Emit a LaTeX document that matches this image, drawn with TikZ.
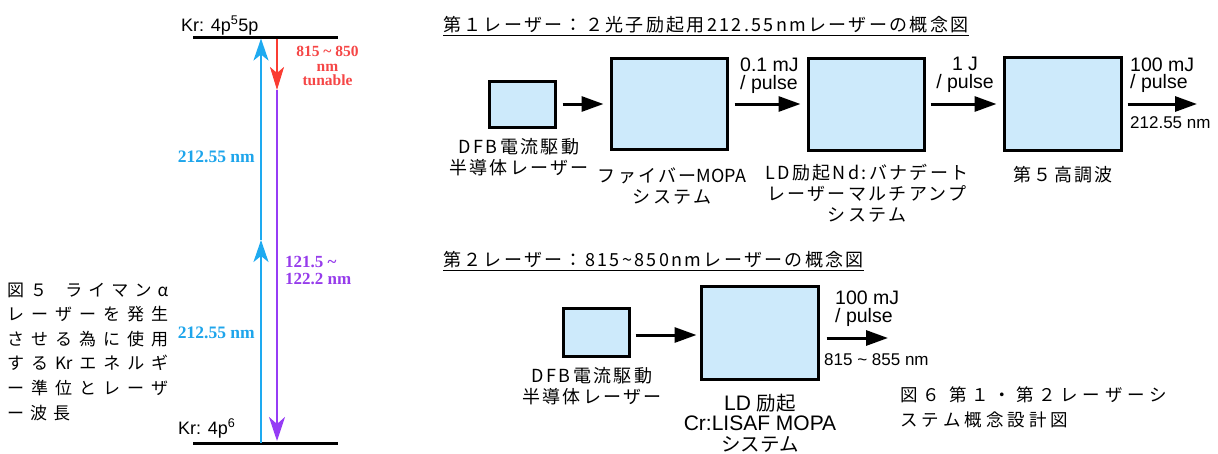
\documentclass[tikz,border=0pt]{standalone}
\usepackage{fontspec}
\setmainfont{Liberation Sans}
\newfontfamily\jp[LetterSpace=13]{Noto Sans CJK JP}
\newfontfamily\jpc{Noto Sans CJK JP}
\newfontfamily\tms{Liberation Serif}
\usetikzlibrary{arrows.meta,calc}
\definecolor{cblue}{RGB}{30,170,240}
\definecolor{cpurple}{RGB}{150,60,245}
\definecolor{cred}{RGB}{250,60,50}
\definecolor{cbluet}{RGB}{30,165,235}
\definecolor{cpurplet}{RGB}{150,60,235}
\definecolor{credt}{RGB}{245,70,70}
\definecolor{boxfill}{RGB}{205,234,251}
\tikzset{
  blk/.style={draw=black, line width=3pt, fill=boxfill, inner sep=0pt},
  flow/.style={line width=3pt, -{Triangle[length=22pt,width=15pt]}},
  jlab/.style={font={\jp\fontsize{18}{21}\selectfont}, align=center, inner sep=0pt},
  plab/.style={font={\fontsize{19.5}{17.5}\selectfont}, inner sep=0pt},
  wlab/.style={font={\fontsize{17}{17}\selectfont}, inner sep=0pt, anchor=west},
  ttl/.style={font={\jp\fontsize{18}{21}\selectfont}, inner sep=0pt, anchor=base west},
  lvl/.style={line width=3pt},
  lvltxt/.style={font={\fontsize{18}{18}\selectfont}, inner sep=0pt, anchor=base west},
  bluearr/.style={draw=cblue, line width=2.4pt, -{Stealth[length=22pt,width=15pt,inset=6pt]}},
  redarr/.style={draw=cred, line width=2.4pt, -{Stealth[length=23pt,width=14pt,inset=6pt]}},
  purparr/.style={draw=cpurple, line width=2.4pt, -{Stealth[length=24pt,width=16pt,inset=7pt]}},
  serb/.style={font={\tms\bfseries\fontsize{17.5}{17.5}\selectfont}, inner sep=0pt},
  captxt/.style={font={\jpc\fontsize{17}{24.6}\selectfont}, align=left, inner sep=0pt, anchor=west},
}
\begin{document}
\begin{tikzpicture}[x=1pt,y=-1pt]
\useasboundingbox (0,0) rectangle (1218,453);
% ---------- energy levels ----------
\coordinate (uL) at (193,37.5); \coordinate (uR) at (338,37.5);
\coordinate (gL) at (193,443); \coordinate (gR) at (338,443);
\draw[lvl] (uL) -- (uR);
\draw[lvl] (gL) -- (gR);
\node[lvltxt] (ulab) at (181,31) {Kr: 4p\textsuperscript{5}5p};
\node[lvltxt] (glab) at (178,434) {Kr: 4p\textsuperscript{6}};
\coordinate (bB) at (261,443); \coordinate (bM) at (261,240); \coordinate (bT) at (261,38.5);
\draw[bluearr] (bB) -- (bM);
\draw[bluearr] (bM) -- (bT);
\coordinate (rT) at (277,38.5); \coordinate (rM) at (277,90); \coordinate (pB) at (277,441);
\draw[redarr] (rT) -- (rM);
\draw[purparr] (rM) -- (pB);
\node[serb, text=credt, align=center, font={\tms\bfseries\fontsize{15.5}{14.5}\selectfont}] (rlab) at (327.5,66) {815 \textasciitilde\ 850\\nm\\tunable};
\node[serb, text=cbluet, anchor=east] (w1) at (255,157) {212.55 nm};
\node[serb, text=cbluet, anchor=east] (w2) at (255,333) {212.55 nm};
\node[serb, text=cpurplet, anchor=west, align=left, font={\tms\bfseries\fontsize{17}{17}\selectfont}] (plab) at (285,270) {121.5 \textasciitilde\\122.2 nm};
% ---------- captions ----------
\node[captxt] (cap5) at (7,351.5) {%
\makebox[161pt][s]{図\hfill ５\hfill\hfill\hfill ラ\hfill イ\hfill マ\hfill ン\hfill α}\\
\makebox[161pt][s]{レ\hfill ー\hfill ザ\hfill ー\hfill を\hfill 発\hfill 生}\\
\makebox[161pt][s]{さ\hfill せ\hfill る\hfill 為\hfill に\hfill 使\hfill 用}\\
\makebox[161pt][s]{す\hfill る\hfill Kr\hfill エ\hfill ネ\hfill ル\hfill ギ}\\
\makebox[161pt][s]{ー\hfill 準\hfill 位\hfill と\hfill レ\hfill ー\hfill ザ}\\
ー\kern6pt 波\kern6pt 長};
\node[captxt, font={\jpc\fontsize{17.5}{25}\selectfont}] (cap6) at (900,407.5) {%
\makebox[267pt][s]{図\hfill ６\hfill\hfill 第\hfill １\hfill ・\hfill 第\hfill ２\hfill レ\hfill ー\hfill ザ\hfill ー\hfill シ}\\
ス\kern4pt テ\kern4pt ム\kern4pt 概\kern4pt 念\kern4pt 設\kern4pt 計\kern4pt 図};
% ---------- first laser ----------
\node[ttl] (t1) at (443,31) {第１レーザー：２光子励起用212.55nmレーザーの概念図};
\draw[line width=1.5pt] ([yshift=-4.5pt]t1.base west) -- ([yshift=-4.5pt]t1.base east);
\node[blk, minimum width=66pt, minimum height=46pt] (b1) at (522.5,104) {};
\node[blk, minimum width=116pt, minimum height=91pt] (b2) at (669.5,104) {};
\node[blk, minimum width=116pt, minimum height=92pt] (b3) at (866.5,104) {};
\node[blk, minimum width=117pt, minimum height=93pt] (b4) at (1063,104) {};
\coordinate (o1) at (1197,104);
\draw[flow, shorten <=5.5pt, shorten >=6.5pt] (b1.east) -- (b2.west);
\draw[flow, shorten <=5.5pt, shorten >=6.5pt] (b2.east) -- (b3.west);
\draw[flow, shorten <=4.5pt, shorten >=6.5pt] (b3.east) -- (b4.west);
\draw[flow, shorten <=4.5pt] (b4.east) -- (o1);
\node[plab, anchor=west, align=left] (e1) at (740,75.5) {0.1 mJ\\/ pulse};
\node[plab, align=center] (e2) at (965,75) {1 J\\/ pulse};
\node[plab, anchor=west, align=left] (e3) at (1130,75) {100 mJ\\/ pulse};
\node[wlab] (e4) at (1130,123) {212.55 nm};
\node[jlab] (l1) at (519,157.5) {DFB電流駆動\\半導体レーザー};
\node[jlab] (l2) at (672,186.5) {ファイバー{\jpc MOPA}\\システム};
\node[jlab] (l3) at (867,193.5) {LD励起Nd:バナデート\\レーザーマルチアンプ\\システム};
\node[jlab] (l4) at (1063,175) {第５高調波};
% ---------- second laser ----------
\node[ttl] (t2) at (443,266) {第２レーザー：815\textasciitilde 850nmレーザーの概念図};
\draw[line width=1.5pt] ([yshift=-4.5pt]t2.base west) -- ([yshift=-4.5pt]t2.base east);
\node[blk, minimum width=66pt, minimum height=48pt] (b5) at (596.5,332.5) {};
\node[blk, minimum width=117pt, minimum height=93pt] (b6) at (760,333) {};
\coordinate (o2) at (888,338);
\draw[flow, shorten <=4.5pt, shorten >=3.5pt] ([yshift=-2.5pt]b5.east) -- ([yshift=-2pt]b6.west);
\draw[flow, shorten <=6.5pt] ([yshift=-5pt]b6.east) -- (o2);
\node[plab, anchor=west, align=left] (e5) at (835,308.5) {100 mJ\\/ pulse};
\node[wlab] (e6) at (824,360) {815 \textasciitilde\ 855 nm};
\node[jlab] (l5) at (592,386.5) {DFB電流駆動\\半導体レーザー};
\node[jlab, font={\jpc\fontsize{19.5}{20.5}\selectfont}] (l6) at (760,423) {{\rmfamily\fontsize{21}{20.5}\selectfont LD\ }励起\\{\rmfamily\fontsize{21}{20.5}\selectfont Cr:LISAF MOPA}\\システム};
\end{tikzpicture}
\end{document}
